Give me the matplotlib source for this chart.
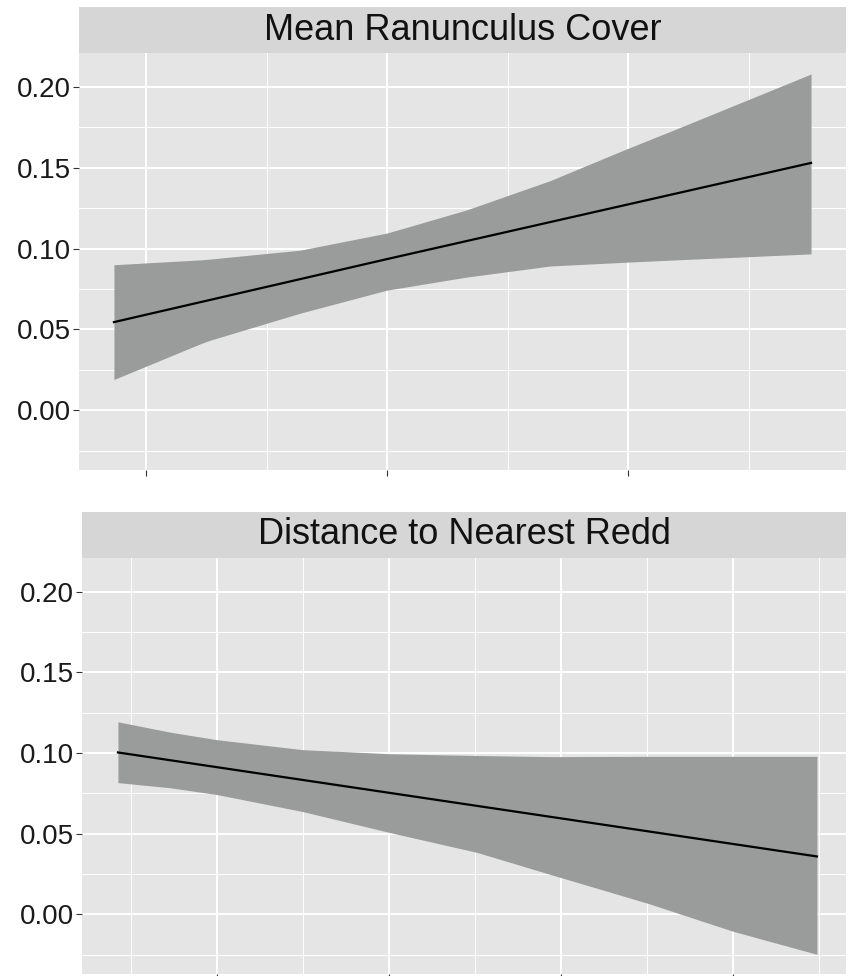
import matplotlib.pyplot as plt
from matplotlib.ticker import MultipleLocator

plt.rcParams['font.family'] = ['Liberation Sans', 'DejaVu Sans']

# panel 1: mean ranunculus cover
cover_title = "Mean Ranunculus Cover"
cover_x = [0.867, 1.224, 1.266, 1.639, 2.0, 2.332, 2.676, 2.983, 3.2, 3.759]
cover_upper = [0.090, 0.093, 0.0935, 0.099, 0.1096, 0.124, 0.142, 0.161, 0.174, 0.208]
cover_lower = [0.019, 0.041, 0.0433, 0.060, 0.0743, 0.0824, 0.0892, 0.0915, 0.093, 0.0967]
cover_fit_x = [0.867, 2.0, 3.759]
cover_fit_y = [0.0545, 0.0935, 0.153]
cover_ticks = [1, 2, 3]

# panel 2: distance to nearest redd
redd_title = "Distance to Nearest Redd"
redd_x = [0.424, 0.727, 1.0, 1.5, 2.006, 2.512, 2.936, 3.5, 4.0, 4.488]
redd_upper = [0.1194, 0.113, 0.1083, 0.1021, 0.0996, 0.0985, 0.0978, 0.098, 0.098, 0.098]
redd_lower = [0.0817, 0.0785, 0.0743, 0.0637, 0.0507, 0.0384, 0.0248, 0.0070, -0.0105, -0.0248]
redd_fit_x = [0.424, 4.488]
redd_fit_y = [0.1004, 0.0359]
redd_ticks = [1, 2, 3, 4]

y_ticks = [0.00, 0.05, 0.10, 0.15, 0.20]
y_labels = ["0.00", "0.05", "0.10", "0.15", "0.20"]

W, H = 848, 976
fig = plt.figure(figsize=(W / 100, H / 100), dpi=100)


def panel(left, top, right, bottom, strip_top, title, xlim, ticks,
          bx, bup, blo, fx, fy):
    ax = fig.add_axes([left / W, 1 - bottom / H, (right - left) / W, (bottom - top) / H])
    ax.set_facecolor('#E5E5E5')
    ax.fill_between(bx, blo, bup, color='#9A9B9B', lw=0, zorder=2)
    ax.plot(fx, fy, color='black', lw=1.6, zorder=3)
    ax.set_xlim(*xlim)
    ax.set_ylim(-0.037, 0.221)
    ax.set_xticks(ticks)
    ax.set_xticklabels([])
    ax.xaxis.set_minor_locator(MultipleLocator(0.5))
    ax.set_yticks(y_ticks)
    ax.set_yticklabels(y_labels, fontsize=20, color='#1a1a1a')
    ax.yaxis.set_minor_locator(MultipleLocator(0.025))
    ax.tick_params(which='major', length=4, width=0.8, color='#333333', pad=2)
    ax.tick_params(which='minor', length=0)
    ax.grid(which='major', color='white', lw=1.4, zorder=0)
    ax.grid(which='minor', color='white', lw=0.7, zorder=0)
    ax.set_axisbelow(True)
    for s in ax.spines.values():
        s.set_visible(False)

    # facet strip above the panel
    strip = fig.add_axes([left / W, 1 - top / H, (right - left) / W, (top - strip_top) / H])
    strip.set_facecolor('#D6D6D6')
    strip.set_xticks([])
    strip.set_yticks([])
    for s in strip.spines.values():
        s.set_visible(False)
    strip.text(0.5, 0.5, title, ha='center', va='center', fontsize=26, color='#111111',
               transform=strip.transAxes)
    return ax


panel(79, 53, 846, 470, 7, cover_title, (0.722, 3.904), cover_ticks,
      cover_x, cover_upper, cover_lower, cover_fit_x, cover_fit_y)
panel(82, 558, 846, 974, 512, redd_title, (0.215, 4.657), redd_ticks,
      redd_x, redd_upper, redd_lower, redd_fit_x, redd_fit_y)

fig.savefig("out.png", dpi=100)
